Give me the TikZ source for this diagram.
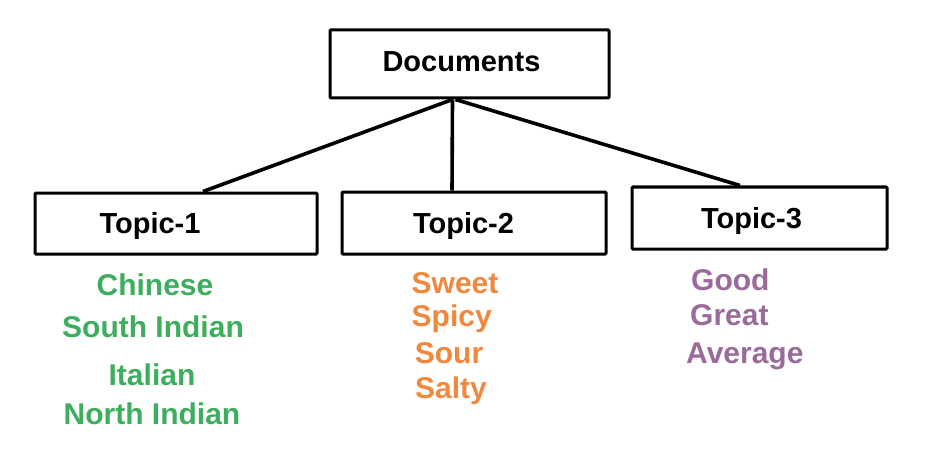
\documentclass[tikz,border=0pt]{standalone}
\usepackage{fontspec}
\setmainfont{Liberation Sans}
\definecolor{lgreen}{HTML}{3DAE5E}
\definecolor{lorange}{HTML}{F0883E}
\definecolor{lpurple}{HTML}{9A6A9A}
\begin{document}
\begin{tikzpicture}[x=1pt,y=-1pt,
  box/.style={draw=black,line width=3pt,rounded corners=1pt,inner sep=0pt,fill=white},
  lbl/.style={anchor=base,inner sep=0pt,font=\fontsize{29}{32}\selectfont\bfseries},
  item/.style={anchor=base,inner sep=0pt,font=\fontsize{30}{32}\selectfont\bfseries},
  link/.style={draw=black,line width=3.6pt}]
\useasboundingbox[fill=white] (0,0) rectangle (928,473);
% boxes
\node[box,minimum width=279pt,minimum height=68pt] (doc) at (469.5,64) {};
\node[box,minimum width=282pt,minimum height=61pt] (t1) at (176,223.5) {};
\node[box,minimum width=264pt,minimum height=62pt] (t2) at (474,223) {};
\node[box,minimum width=255pt,minimum height=62pt] (t3) at (759.5,218) {};
% connectors
\draw[link] ([xshift=-17pt]doc.south) -- ([xshift=27pt]t1.north);
\draw[link] ([xshift=-17pt]doc.south) -- ([xshift=-22pt]t2.north);
\draw[link] ([xshift=-14pt]doc.south) -- ([xshift=-19.5pt]t3.north);
% labels
\node[lbl] (docl) at (461.5,72) {Documents};
\node[lbl] (t1l) at (150,233) {Topic-1};
\node[lbl] (t2l) at (463.5,233) {Topic-2};
\node[lbl] (t3l) at (751.5,228) {Topic-3};
% topic 1 items
\node[item,text=lgreen] (a1) at (155,295) {Chinese};
\node[item,text=lgreen] (a2) at (153,337) {South Indian};
\node[item,text=lgreen] (a3) at (152,385) {Italian};
\node[item,text=lgreen] (a4) at (152,424) {North Indian};
% topic 2 items
\node[item,text=lorange] (b1) at (455,293) {Sweet};
\node[item,text=lorange] (b2) at (451.7,326) {Spicy};
\node[item,text=lorange] (b3) at (449,363) {Sour};
\node[item,text=lorange] (b4) at (451,398) {Salty};
% topic 3 items
\node[item,anchor=base west,text=lpurple] (c1) at (691,290) {Good};
\node[item,anchor=base west,text=lpurple] (c2) at (690,325) {Great};
\node[item,anchor=base west,text=lpurple] (c3) at (686,363) {Average};
\end{tikzpicture}
\end{document}
